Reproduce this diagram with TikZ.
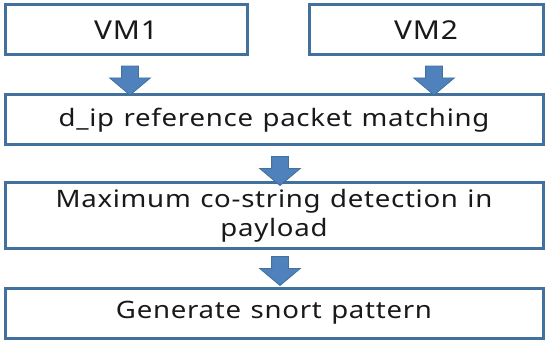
\documentclass[tikz,border=0pt]{standalone}
\usepackage{fontspec}
\setmainfont{Noto Sans}
\newfontfamily\boxfont[FakeStretch=1.15,LetterSpace=3,WordSpace=1.2]{Noto Sans}
\usetikzlibrary{shapes.arrows}
\definecolor{edge}{HTML}{41719C}
\definecolor{arrfill}{HTML}{4F81BD}
\begin{document}
\begin{tikzpicture}[x=1pt,y=1pt,
  box/.style={draw=edge,line width=3pt,fill=white,inner sep=0pt,align=center,
    font=\boxfont\fontsize{24}{29}\selectfont,text=black!90},
  vmbox/.style={box,font=\boxfont\fontsize{26}{30}\selectfont},
  blk/.style={single arrow,draw=edge,fill=arrfill,line width=0.8pt,
    shape border rotate=270,minimum height=29pt,minimum width=40pt,
    single arrow head extend=12pt,single arrow tip angle=100,inner sep=0pt,
    single arrow head indent=0pt, text width=16pt}]
\useasboundingbox (0,0) rectangle (548,340);
\node[vmbox,minimum width=242pt,minimum height=50pt] (vm1) at (126,310) {VM1};
\node[vmbox,minimum width=234pt,minimum height=50pt] (vm2) at (426,310) {VM2};
\node[box,minimum width=538pt,minimum height=50pt] (dip) at (274,220) {d\_ip reference packet matching};
\node[box,minimum width=538pt,minimum height=65pt] (max) at (274,124.5) {Maximum co-string detection in\\payload};
\node[box,minimum width=538pt,minimum height=50pt] (gen) at (274,27) {Generate snort pattern};
\node[blk] (a1) at (130,263) {};
\node[blk] (a2) at (434,263) {};
\node[blk] (a3) at (280,172.5) {};
\node[blk] (a4) at (280,72.5) {};
\end{tikzpicture}
\end{document}
